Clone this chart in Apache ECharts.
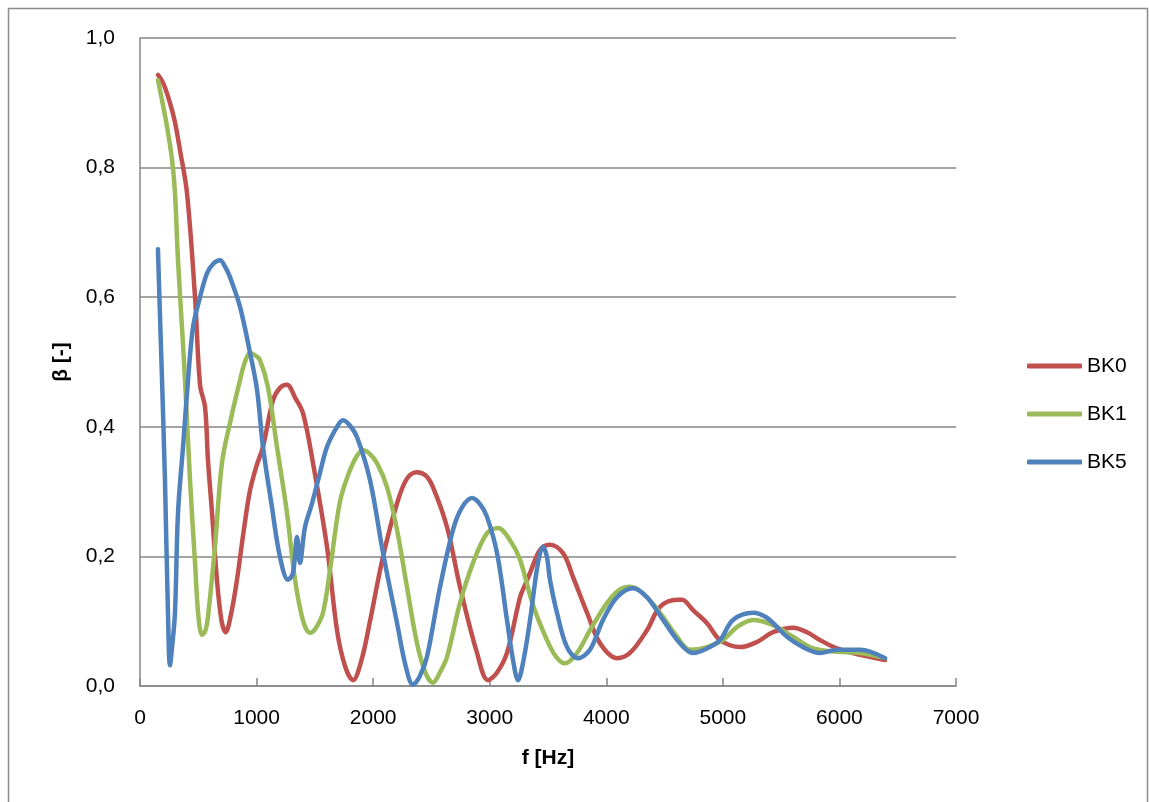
<!DOCTYPE html>
<html>
<head>
<meta charset="utf-8">
<script src="https://cdn.jsdelivr.net/npm/echarts@6/dist/echarts.min.js"></script>
<style>
	html,body{margin:0;padding:0;background:#fff;}
	#chart{width:1149px;height:802px;}
</style>
</head>
<body>
<div id="chart"></div>
<script>
// frequency [Hz], beta [-]
var bk0 = [
	[154,0.943],[200,0.93],[257,0.90],[300,0.87],[343,0.827],[403,0.761],[472,0.60],[515,0.465],[558,0.43],
	[583,0.349],[618,0.267],[660,0.164],[700,0.10],[735,0.083],[780,0.11],[832,0.164],[890,0.24],[944,0.302],
	[1000,0.34],[1055,0.369],[1141,0.441],[1200,0.46],[1261,0.465],[1330,0.445],[1398,0.421],[1484,0.344],
	[1604,0.215],[1690,0.086],[1760,0.03],[1827,0.009],[1900,0.04],[1973,0.10],[2085,0.2],[2205,0.282],
	[2290,0.32],[2376,0.33],[2450,0.325],[2513,0.307],[2634,0.245],[2745,0.153],[2891,0.051],[2985,0.009],
	[3060,0.02],[3148,0.051],[3260,0.137],[3300,0.155],[3345,0.174],[3431,0.21],[3517,0.218],[3629,0.205],
	[3715,0.168],[3835,0.113],[3946,0.066],[4092,0.043],[4203,0.051],[4349,0.086],[4461,0.122],[4607,0.133],
	[4650,0.133],[4744,0.117],[4864,0.097],[4976,0.071],[5147,0.06],[5293,0.068],[5430,0.083],[5602,0.09],
	[5722,0.083],[5833,0.071],[5979,0.058],[6177,0.048],[6391,0.04]
];
var bk1 = [
	[154,0.935],[189,0.904],[232,0.863],[275,0.812],[300,0.761],[326,0.657],[360,0.554],[386,0.472],[429,0.318],
	[472,0.19],[500,0.11],[532,0.079],[560,0.085],[583,0.107],[643,0.215],[703,0.344],[772,0.406],[858,0.472],
	[900,0.50],[944,0.514],[990,0.51],[1029,0.503],[1098,0.461],[1175,0.369],[1261,0.267],[1330,0.164],
	[1400,0.10],[1458,0.082],[1510,0.09],[1570,0.113],[1630,0.179],[1716,0.285],[1801,0.333],[1860,0.355],
	[1913,0.364],[1960,0.36],[2033,0.344],[2119,0.307],[2205,0.241],[2290,0.153],[2376,0.066],[2450,0.02],
	[2513,0.005],[2570,0.02],[2634,0.045],[2745,0.128],[2857,0.19],[2977,0.236],[3071,0.244],[3174,0.225],
	[3260,0.195],[3371,0.125],[3491,0.071],[3570,0.045],[3646,0.035],[3749,0.051],[3860,0.086],[4006,0.128],
	[4110,0.148],[4203,0.153],[4315,0.143],[4461,0.113],[4607,0.076],[4718,0.056],[4864,0.06],[5001,0.071],
	[5121,0.091],[5259,0.102],[5430,0.094],[5602,0.076],[5773,0.058],[5979,0.053],[6177,0.051],[6391,0.043]
];
var bk5 = [
	[154,0.674],[170,0.58],[189,0.472],[214,0.318],[240,0.113],[257,0.032],[275,0.06],[300,0.113],[326,0.267],
	[369,0.369],[412,0.472],[455,0.554],[515,0.60],[575,0.637],[630,0.652],[686,0.657],[730,0.647],[772,0.631],
	[858,0.585],[944,0.514],[1004,0.457],[1055,0.369],[1132,0.276],[1201,0.199],[1270,0.164],[1312,0.174],
	[1347,0.23],[1372,0.19],[1415,0.245],[1476,0.282],[1544,0.329],[1604,0.369],[1690,0.40],[1742,0.41],
	[1800,0.402],[1862,0.384],[1973,0.318],[2085,0.205],[2205,0.097],[2280,0.03],[2342,0.002],[2400,0.015],
	[2462,0.045],[2574,0.153],[2685,0.241],[2760,0.275],[2848,0.29],[2920,0.28],[2977,0.261],[3063,0.205],
	[3148,0.102],[3200,0.04],[3243,0.009],[3290,0.04],[3346,0.102],[3414,0.19],[3457,0.215],[3490,0.2],
	[3517,0.164],[3577,0.113],[3663,0.06],[3757,0.043],[3860,0.056],[3972,0.102],[4092,0.137],[4229,0.151],
	[4349,0.137],[4487,0.102],[4632,0.066],[4744,0.051],[4864,0.058],[4976,0.071],[5087,0.102],[5259,0.113],
	[5379,0.105],[5550,0.076],[5688,0.06],[5833,0.051],[5979,0.056],[6177,0.056],[6391,0.043]
];
var seriesNames = ['BK0','BK1','BK5'];
var seriesColors = ['#C0504D','#9BBB59','#4F81BD'];

var font = "'Liberation Sans', sans-serif";
var chart = echarts.init(document.getElementById('chart'));

function makeSeries(name, data, color){
	return {
		name: name,
		type: 'line',
		data: data,
		showSymbol: false,
		smooth: 0.35,
		lineStyle: {width: 4.5, color: color, cap: 'round', join: 'round'},
		itemStyle: {color: color}
	};
}

var option = {
	animation: false,
	backgroundColor: '#fff',
	graphic: [{
		type: 'rect',
		shape: {x: 8.5, y: 8.5, width: 1139, height: 810},
		style: {fill: 'none', stroke: '#8c8c8c', lineWidth: 1.5},
		silent: true
	}],
	grid: {left: 140, right: 193, top: 38, bottom: 116},
	legend: {
		orient: 'vertical',
		left: 1022,
		top: 349,
		icon: 'roundRect',
		itemWidth: 55,
		itemHeight: 5,
		itemGap: 24,
		textStyle: {fontFamily: font, fontSize: 21, color: '#000', lineHeight: 24},
		data: seriesNames
	},
	xAxis: {
		type: 'value',
		min: 0,
		max: 7000,
		interval: 1000,
		name: 'f [Hz]',
		nameLocation: 'middle',
		nameGap: 62,
		nameTextStyle: {fontFamily: font, fontSize: 21, fontWeight: 'bold', color: '#000'},
		axisLine: {lineStyle: {color: '#868686', width: 1.5}},
		axisTick: {show: true, inside: true, length: 8, lineStyle: {color: '#868686', width: 1.5}},
		axisLabel: {
			fontFamily: font, fontSize: 21, color: '#000', margin: 22,
			formatter: function(v){ return String(v); }
		},
		splitLine: {show: false}
	},
	yAxis: {
		type: 'value',
		min: 0,
		max: 1,
		interval: 0.2,
		name: 'β [-]',
		nameLocation: 'middle',
		nameRotate: 90,
		nameGap: 68,
		nameTextStyle: {fontFamily: font, fontSize: 21, fontWeight: 'bold', color: '#000'},
		axisLine: {show: true, lineStyle: {color: '#868686', width: 1.5}},
		axisTick: {show: false},
		axisLabel: {
			fontFamily: font, fontSize: 21, color: '#000', margin: 25,
			formatter: function(v){ return v.toFixed(1).replace('.', ','); }
		},
		splitLine: {show: true, lineStyle: {color: '#868686', width: 1.5}}
	},
	series: [
		makeSeries(seriesNames[0], bk0, seriesColors[0]),
		makeSeries(seriesNames[1], bk1, seriesColors[1]),
		makeSeries(seriesNames[2], bk5, seriesColors[2])
	]
};
chart.setOption(option);
</script>
</body>
</html>
